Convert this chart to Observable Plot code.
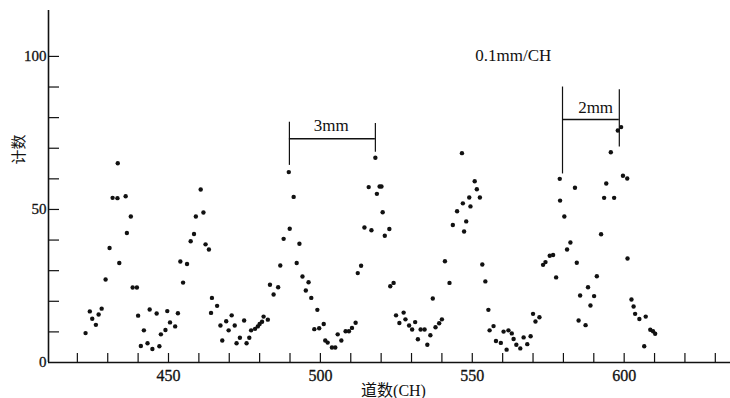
<!DOCTYPE html>
<html>
<head>
<meta charset="utf-8">
<script src="https://cdn.jsdelivr.net/npm/d3@7"></script>
<script src="https://cdn.jsdelivr.net/npm/@observablehq/plot@0.6"></script>
<style>
  html, body { margin: 0; padding: 0; background: #fff; }
  #chart svg { display: block; }
</style>
</head>
<body>
<div id="chart"></div>
<script>
// ---- data ----
const channel = [
  422.7,424.1,424.9,426.1,427.0,428.0,429.3,430.6,431.6,433.2,433.3,433.8,435.9,436.3,437.6,438.2,439.6,
  440.0,440.9,441.9,443.1,443.8,444.7,446.1,447.0,447.5,449.0,449.6,450.5,452.2,453.1,453.9,454.8,456.1,
  457.3,458.4,459.0,460.6,461.5,462.2,463.3,464.0,464.3,466.0,467.1,467.7,469.0,469.8,470.8,471.8,472.4,
  473.5,474.9,475.7,476.6,477.2,478.5,479.4,480.0,480.8,481.3,482.7,483.4,484.6,486.1,486.8,487.9,489.6,
  489.9,491.2,492.2,493.1,494.1,495.2,496.1,497.0,498.0,499.0,499.6,501.1,501.6,502.4,503.8,504.9,505.7,
  506.9,508.3,509.4,510.4,511.6,512.3,513.4,514.5,515.9,516.8,518.1,518.6,519.5,520.1,520.5,521.2,522.7,
  523.0,524.1,524.9,526.0,527.4,528.0,529.2,530.2,531.2,532.1,533.0,534.3,535.2,536.2,537.0,537.9,539.1,
  540.0,541.0,542.5,543.6,545.0,546.6,546.9,547.3,548.0,549.0,549.4,550.8,551.5,552.5,553.3,554.3,555.3,
  555.7,557.0,557.8,559.4,560.3,561.3,561.9,563.0,563.6,564.5,565.8,566.9,568.1,569.2,570.0,570.8,572.1,
  573.3,574.1,575.5,576.6,577.6,578.8,578.9,580.3,581.2,582.3,583.8,584.4,585.0,585.5,587.3,588.1,588.9,
  590.1,591.0,592.4,593.4,594.1,595.6,596.7,597.9,599.0,599.6,601.0,601.1,602.4,603.1,603.6,605.0,606.6,
  607.1,608.6,609.5,610.2
];
const counts = [
  9.6,16.7,14.3,12.3,15.7,17.6,27.1,37.4,53.8,53.7,65.1,32.5,54.3,42.3,47.7,24.5,24.5,
  15.3,5.4,10.5,6.3,17.3,4.4,16.0,5.3,9.2,10.6,16.8,13.1,11.8,16.1,33.0,26.1,32.2,
  39.6,42.0,47.7,56.5,49.0,38.6,36.9,16.2,21.1,18.5,12.1,7.2,13.5,10.5,15.4,12.1,6.3,
  8.1,13.7,6.3,8.1,10.5,11.0,11.8,12.6,13.3,15.0,14.0,25.4,22.2,24.6,31.7,40.4,62.2,
  43.7,54.1,32.5,38.8,28.1,23.5,26.2,21.1,10.9,17.2,11.2,12.6,7.2,6.5,4.9,4.9,9.2,
  7.2,10.2,10.2,11.3,13.0,29.2,31.6,44.1,57.3,43.2,66.9,55.1,57.5,57.5,49.1,41.4,43.6,
  24.9,26.0,15.4,12.9,16.3,14.1,12.1,10.8,13.2,7.6,10.8,10.8,5.8,8.9,20.9,11.5,12.8,
  14.1,33.1,26.0,44.9,49.4,68.4,52.0,42.8,46.1,53.9,51.0,59.2,56.6,53.9,32.0,26.5,17.2,
  10.5,11.9,7.0,6.4,10.1,4.2,10.5,9.5,7.7,5.8,4.6,8.2,6.0,8.6,15.9,13.4,14.8,
  31.9,32.8,34.9,35.1,27.8,60.0,52.9,47.7,36.9,39.2,57.1,32.6,13.7,21.9,12.2,24.6,18.6,
  21.7,28.2,41.9,53.8,58.5,68.7,53.8,75.8,76.9,61.0,60.1,34.0,20.6,18.3,15.9,14.2,5.3,
  15.0,10.7,10.2,9.4
];
const xDomain = [410.5, 635];
const yDomain = [0, 115];
const xTicks = d3.range(420, 631, 10);
const xTickLabels = [450, 500, 550, 600];
const yTicks = d3.range(10, 101, 10);
const yTickLabels = [0, 50, 100];
const xTitle = "道数(CH)";
const yTitle = "计数";
const scaleNote = {text: "0.1mm/CH", x: 551, y: 100.3};
// bracket annotations: left/right channel, vertical extents, bar height, label position
const bracketLabels = ["3mm", "2mm"];
const bracketLeft = [489.8, 579.7];
const bracketRight = [518.1, 598.4];
const bracketLeftY = [[64.4, 78.5], [61.6, 90.0]];
const bracketRightY = [[68.7, 78.1], [70.4, 89.1]];
const bracketBarY = [73.1, 79.4];
const bracketTextX = [503.6, 590.6];
const bracketTextY = [77.3, 83.3];

// ---- build tables ----
const points = channel.map((c, i) => ({ch: c, n: counts[i]}));
const brackets = bracketLabels.map((label, i) => ({
  label, x1: bracketLeft[i], x2: bracketRight[i],
  ly1: bracketLeftY[i][0], ly2: bracketLeftY[i][1],
  ry1: bracketRightY[i][0], ry2: bracketRightY[i][1],
  bar: bracketBarY[i], tx: bracketTextX[i], ty: bracketTextY[i]
}));

const serif = "'Liberation Serif', 'Noto Sans CJK SC', serif";
const cjk = "'Liberation Serif', 'Noto Sans CJK SC', sans-serif";

const chart = Plot.plot({
  width: 730,
  height: 398,
  marginTop: 10,
  marginBottom: 36,
  marginLeft: 48,
  marginRight: 0,
  style: {background: "#fff", color: "#000", fontFamily: serif},
  x: {domain: xDomain, axis: null},
  y: {domain: yDomain, axis: null},
  marks: [
    // axis lines
    Plot.ruleY([yDomain[0]], {stroke: "#111", strokeWidth: 1.6}),
    Plot.ruleX([xDomain[0]], {stroke: "#111", strokeWidth: 1.6}),
    // inward ticks
    Plot.tickX(xTicks, {x: d => d, insetTop: 343, stroke: "#111", strokeWidth: 1.2}),
    Plot.tickY(yTicks, {y: d => d, insetRight: 671, stroke: "#111", strokeWidth: 1.2}),
    // tick labels
    Plot.text(xTickLabels, {x: d => d, text: d => String(d), frameAnchor: "bottom", dy: 18,
      fontSize: 16, fill: "#111", stroke: "#111", strokeWidth: 0.3, fontFamily: serif}),
    Plot.text(yTickLabels, {y: d => d, text: d => String(d), frameAnchor: "left", dx: -2,
      textAnchor: "end", fontSize: 15, fill: "#111", stroke: "#111", strokeWidth: 0.3, fontFamily: serif}),
    // axis titles
    Plot.text([xTitle], {frameAnchor: "bottom", dx: 4, dy: 33, fontSize: 16, fill: "#111", fontFamily: cjk}),
    Plot.text([yTitle], {frameAnchor: "left", dx: -29, dy: -22, rotate: -90, fontSize: 15, fill: "#111", fontFamily: cjk}),
    // data
    Plot.dot(points, {x: "ch", y: "n", r: 2.2, fill: "#111", stroke: null}),
    // brackets
    Plot.ruleX(brackets, {x: "x1", y1: "ly1", y2: "ly2", stroke: "#111", strokeWidth: 1.2}),
    Plot.ruleX(brackets, {x: "x2", y1: "ry1", y2: "ry2", stroke: "#111", strokeWidth: 1.2}),
    Plot.ruleY(brackets, {y: "bar", x1: "x1", x2: "x2", stroke: "#111", strokeWidth: 1.4}),
    Plot.text(brackets, {x: "tx", y: "ty", text: "label", fontSize: 17, fill: "#111", fontFamily: serif}),
    // scale note
    Plot.text([scaleNote], {x: "x", y: "y", text: "text", textAnchor: "start", fontSize: 17, fill: "#111", fontFamily: serif})
  ]
});
document.getElementById("chart").appendChild(chart);
</script>
</body>
</html>
